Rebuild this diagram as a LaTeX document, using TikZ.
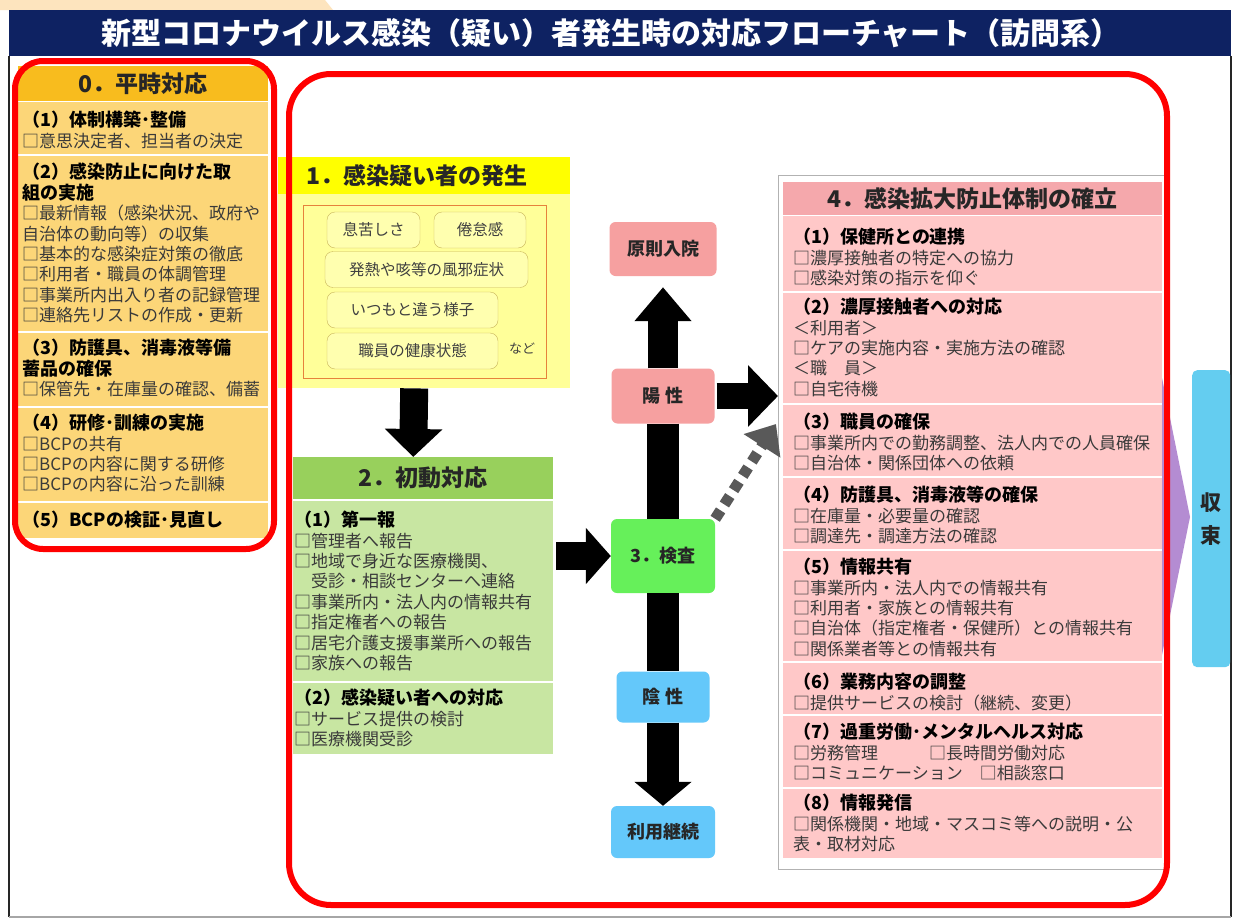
\documentclass[tikz,border=0pt]{standalone}
\usepackage{fontspec}
\setmainfont{Noto Sans CJK JP}
\usetikzlibrary{arrows.meta}

\definecolor{navy}{RGB}{14,34,98}
\definecolor{peach}{RGB}{253,228,190}
\definecolor{orangehd}{RGB}{248,188,30}
\definecolor{orangebd}{RGB}{252,214,120}
\definecolor{yellowhd}{RGB}{255,255,0}
\definecolor{yellowbd}{RGB}{255,255,153}
\definecolor{symfill}{RGB}{255,255,175}
\definecolor{symline}{RGB}{200,180,90}
\definecolor{innerorange}{RGB}{230,130,60}
\definecolor{greenhd}{RGB}{152,208,92}
\definecolor{greenbd}{RGB}{200,230,162}
\definecolor{pinkbox}{RGB}{246,160,160}
\definecolor{testgreen}{RGB}{102,240,90}
\definecolor{bluebox}{RGB}{100,200,250}
\definecolor{pinkhd}{RGB}{245,168,172}
\definecolor{pinkbd}{RGB}{255,200,200}
\definecolor{purplearr}{RGB}{180,140,210}
\definecolor{endblue}{RGB}{100,205,240}
\definecolor{listgray}{RGB}{58,58,58}
\definecolor{redline}{RGB}{255,0,0}

\newcommand{\subhd}[1]{{\color{black}\bfseries\fontsize{18}{20.4}\selectfont #1}}

\begin{document}
\begin{tikzpicture}
  [
    x=1pt, y=-1pt,
    Panel/.style={anchor=north west, inner sep=0, draw=none},
    Hdr/.style={inner sep=0, font=\fontsize{23}{26}\selectfont\bfseries, text=black!85},
    List/.style={anchor=north west, align=left, inner sep=0, text=listgray, font=\fontsize{17}{20.4}\selectfont},
    Sym/.style={draw=symline, fill=symfill, rounded corners=8pt, minimum height=36pt, inner sep=0, font=\fontsize{15.5}{18}\selectfont, text=black!75},
    Flow/.style={rounded corners=6pt, minimum width=104pt, minimum height=54pt, inner sep=0, font=\fontsize{18}{20}\selectfont\bfseries, text=black!85},
    Sep/.style={draw=white, line width=1.5pt},
    Block/.style={line width=28pt, -{Triangle[length=28pt,width=56pt]}},
    Bar/.style={line width=32pt},
    Dots/.style={draw=black!65, line width=11pt, dash pattern=on 10pt off 7pt, -{Triangle[length=26pt,width=42pt]}},
    RedBox/.style={draw=redline, line width=6pt}
  ]
  \useasboundingbox (0,0) rectangle (1235,921);
  \fill[white] (0,0) rectangle (1235,921);

  % Title
  \fill[peach] (0,0) -- (325,0) -- (333,10) -- (0,10) -- cycle;
  \node[Panel, fill=navy, minimum width=1222pt, minimum height=46pt] (titlebar) at (9,10) {};
  \node[inner sep=0, text=white, font=\fontsize{30}{34}\selectfont\bfseries] (titletext) at (611,33)
    {新型コロナウイルス感染（疑い）者発生時の対応フローチャート（訪問系）};
  \draw[black!85, line width=1.5pt] (9,56) -- (9,917);
  \draw[black!85, line width=1.5pt] (1231,56) -- (1231,917);
  \draw[black!35, line width=1.5pt] (9,917) -- (1231,917);

  % 0. routine
  \node[Panel, fill=orangehd, minimum width=250pt, minimum height=35pt] (s0h) at (18,66) {};
  \node[Hdr] at (s0h) {0．平時対応};
  \node[Panel, fill=orangebd, minimum width=250pt, minimum height=436pt] (s0) at (18,102) {};
  \foreach \y in {155,332,407,502}
    \draw[Sep] (18,\y) -- (268,\y);
  \node[List] (s0a) at (22,111) {\subhd{（1）体制構築･整備}\\
    □意思決定者、担当者の決定};
  \node[List] (s0b) at (22,163) {\subhd{（2）感染防止に向けた取}\\
    \subhd{組の実施}\\
    □最新情報（感染状況、政府や\\
    自治体の動向等）の収集\\
    □基本的な感染症対策の徹底\\
    □利用者・職員の体調管理\\
    □事業所内出入り者の記録管理\\
    □連絡先リストの作成・更新};
  \node[List] (s0c) at (22,339) {\subhd{（3）防護具、消毒液等備}\\
    \subhd{蓄品の確保}\\
    □保管先・在庫量の確認、備蓄};
  \node[List] (s0d) at (22,414) {\subhd{（4）研修･訓練の実施}\\
    □BCPの共有\\
    □BCPの内容に関する研修\\
    □BCPの内容に沿った訓練};
  \node[List] (s0e) at (22,511) {\subhd{（5）BCPの検証･見直し}};

  % 1. suspected case
  \node[Panel, fill=yellowbd, minimum width=292pt, minimum height=231pt] (s1) at (278,157) {};
  \node[Panel, fill=yellowhd, minimum width=292pt, minimum height=37pt] (s1h) at (278,157) {};
  \node[Hdr, anchor=west] at (306,176) {1．感染疑い者の発生};
  \draw[innerorange, line width=1pt] (303,205) rectangle (546,378);
  \node[Sym, minimum width=93pt] (sym1) at (373.5,230) {息苦しさ};
  \node[Sym, minimum width=92pt] (sym2) at (480,230) {倦怠感};
  \node[Sym, minimum width=203pt] (sym3) at (426.5,269.5) {発熱や咳等の風邪症状};
  \node[Sym, minimum width=171pt] (sym4) at (412.5,310) {いつもと違う様子};
  \node[Sym, minimum width=171pt] (sym5) at (412.5,351) {職員の健康状態};
  \node[inner sep=0, font=\fontsize{13}{15}\selectfont, text=black!75] (etc) at (522,349) {など};

  % 2. first response
  \node[Panel, fill=greenhd, minimum width=260pt, minimum height=42pt] (s2h) at (293,457) {};
  \node[Hdr] at (s2h) {2．初動対応};
  \node[Panel, fill=greenbd, minimum width=260pt, minimum height=253pt] (s2) at (293,501) {};
  \draw[Sep] (293,682) -- (553,682);
  \node[List] (s2a) at (294,511) {\subhd{（1）第一報}\\
    □管理者へ報告\\
    □地域で身近な医療機関、\\
    \hspace*{1em}受診・相談センターへ連絡\\
    □事業所内・法人内の情報共有\\
    □指定権者への報告\\
    □居宅介護支援事業所への報告\\
    □家族への報告};
  \node[List] (s2b) at (294,689) {\subhd{（2）感染疑い者への対応}\\
    □サービス提供の検討\\
    □医療機関受診};

  % 3. test
  \node[Flow, fill=pinkbox, minimum width=107pt] (hosp) at (663,249) {原則入院};
  \node[Flow, fill=pinkbox, minimum width=103pt, minimum height=55pt] (pos) at (663,396) {陽 性};
  \node[Flow, fill=testgreen, minimum height=74pt] (test) at (663,556) {3．検査};
  \node[Flow, fill=bluebox, minimum width=93pt, minimum height=51pt] (neg) at (663,697) {陰 性};
  \node[Flow, fill=bluebox, minimum height=52pt] (cont) at (663,832) {利用継続};

  % 4. spread prevention
  \node[Panel, draw=black!30, line width=1pt, minimum width=387pt, minimum height=694pt] (s4) at (778,175) {};
  \node[Panel, fill=pinkhd, minimum width=379pt, minimum height=33pt] (s4h) at (783,182) {};
  \node[Hdr] at (s4h) {4．感染拡大防止体制の確立};
  \node[Panel, fill=pinkbd, minimum width=379pt, minimum height=642pt] (s4b) at (783,216) {};
  \foreach \y in {292,404,477,550,662,715,788}
    \draw[Sep] (783,\y) -- (1162,\y);
  \node[List] (s4a) at (793,228) {\subhd{（1）保健所との連携}\\
    □濃厚接触者の特定への協力\\
    □感染対策の指示を仰ぐ};
  \node[List] (s4c) at (793,298) {\subhd{（2）濃厚接触者への対応}\\
    ＜利用者＞\\
    □ケアの実施内容・実施方法の確認\\
    ＜職　員＞\\
    □自宅待機};
  \node[List] (s4d) at (793,413) {\subhd{（3）職員の確保}\\
    □事業所内での勤務調整、法人内での人員確保\\
    □自治体・関係団体への依頼};
  \node[List] (s4e) at (793,486) {\subhd{（4）防護具、消毒液等の確保}\\
    □在庫量・必要量の確認\\
    □調達先・調達方法の確認};
  \node[List] (s4f) at (793,558) {\subhd{（5）情報共有}\\
    □事業所内・法人内での情報共有\\
    □利用者・家族との情報共有\\
    □自治体（指定権者・保健所）との情報共有\\
    □関係業者等との情報共有};
  \node[List] (s4g) at (793,673) {\subhd{（6）業務内容の調整}\\
    □提供サービスの検討（継続、変更）};
  \node[List] (s4h) at (793,723) {\subhd{（7）過重労働･メンタルヘルス対応}\\
    □労務管理　　　□長時間労働対応\\
    □コミュニケーション　□相談窓口};
  \node[List] (s4i) at (793,794) {\subhd{（8）情報発信}\\
    □関係機関・地域・マスコミ等への説明・公\\
    表・取材対応};

  % Convergence
  \fill[purplearr] (1162,378) -- (1190,517) -- (1162,655) -- cycle;
  \node[Panel, fill=endblue, rounded corners=5pt, minimum width=38pt, minimum height=297pt] (endbox) at (1192,370) {};
  \node[align=center, inner sep=0, font=\fontsize{21}{33}\selectfont\bfseries, text=black!85] at (endbox) {収\\束};

  % Arrows
  \coordinate (dashend) at (776,424);
  \draw[Block] ([xshift=-10pt]s1.south) -- ([xshift=-10pt]s2h.north);
  \draw[Block, shorten <=3pt, -{Triangle[length=25pt,width=55pt]}] (test -| s2.east) -- (test.west);
  \draw[Block, line width=30pt, shorten >=11pt, -{Triangle[length=34pt,width=55pt]}] (pos) -- (hosp);
  \draw[Bar] (pos) -- (test);
  \draw[Bar] (test) -- (neg);
  \draw[Block, line width=32pt, -{Triangle[length=24pt,width=56pt]}] (neg) -- (cont);
  \draw[Block, line width=26pt, shorten <=2pt, -{Triangle[length=30pt,width=60pt]}] (pos) -- (pos -| s4.west);
  \draw[Dots] (test.north east) -- (dashend);

  % Red frames
  \draw[RedBox, rounded corners=28pt] (15,61) rectangle (274,549);
  \draw[RedBox, rounded corners=42pt] (289,74) rectangle (1167,905);
\end{tikzpicture}
\end{document}
